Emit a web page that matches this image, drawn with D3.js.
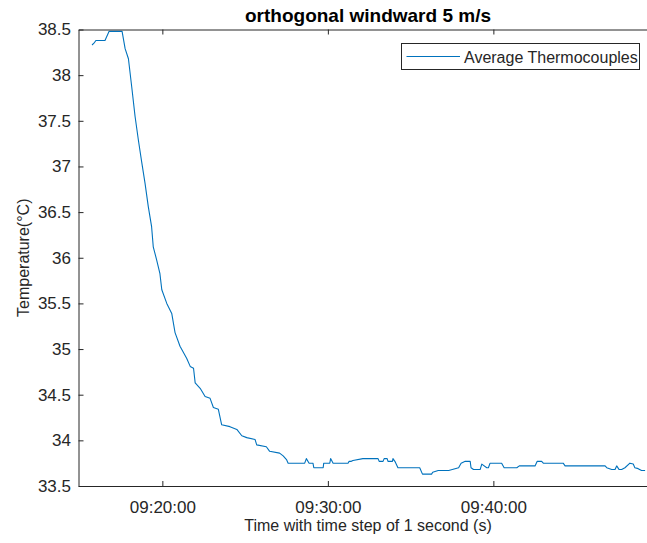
<!DOCTYPE html>
<html>
<head>
<meta charset="utf-8">
<script src="https://cdn.jsdelivr.net/npm/d3@7"></script>
<style>
  html, body { margin: 0; padding: 0; background: #fff; }
  svg { display: block; font-family: "Liberation Sans", Arial, Helvetica, sans-serif; }
</style>
</head>
<body>
<div id="chart"></div>
<script>
// ---- data ----
const titleText = "orthogonal windward 5 m/s";
const xLabel = "Time with time step of 1 second (s)";
const yLabel = "Temperature(°C)";
const seriesName = "Average Thermocouples";

const times = [
  "09:15:45","09:15:52","09:15:59","09:16:32","09:16:47","09:17:34","09:17:45","09:17:57",
  "09:18:09","09:18:21","09:18:33","09:18:45","09:18:57","09:19:09","09:19:21","09:19:27",
  "09:19:39","09:19:51","09:19:58","09:20:16","09:20:34","09:20:46","09:21:04","09:21:28",
  "09:21:41","09:21:53","09:21:59","09:22:17","09:22:35","09:22:53","09:23:05","09:23:23",
  "09:23:35","09:24:05","09:24:30","09:24:48","09:25:06","09:25:36","09:25:42","09:26:17",
  "09:26:29","09:27:05","09:27:18","09:27:30","09:27:36","09:28:36","09:28:42","09:28:52",
  "09:29:06","09:29:09","09:29:43","09:29:45","09:30:07","09:30:10","09:30:19","09:31:13",
  "09:31:17","09:31:25","09:31:31","09:32:07","09:33:02","09:33:06","09:33:20","09:33:24",
  "09:33:35","09:33:38","09:33:54","09:33:56","09:34:03","09:34:14","09:35:33","09:35:43",
  "09:36:16","09:36:20","09:36:40","09:37:18","09:37:54","09:38:03","09:38:18","09:38:36",
  "09:38:39","09:38:48","09:39:12","09:39:18","09:39:36","09:39:42","09:39:48","09:40:30",
  "09:40:39","09:41:25","09:41:34","09:42:31","09:42:39","09:42:55","09:43:01","09:44:13",
  "09:44:20","09:46:45","09:46:51","09:47:09","09:47:21","09:47:27","09:47:36","09:47:45",
  "09:47:57","09:48:15","09:48:27","09:48:33","09:48:45","09:48:57","09:49:10"
];
const temps = [
  38.33,38.35,38.38,38.38,38.48,38.48,38.29,38.18,
  37.87,37.55,37.29,37.05,36.82,36.56,36.34,36.12,
  35.98,35.83,35.65,35.50,35.39,35.18,35.03,34.90,
  34.81,34.79,34.63,34.57,34.48,34.46,34.36,34.34,
  34.17,34.15,34.12,34.05,34.03,34.01,33.95,33.93,
  33.88,33.86,33.83,33.79,33.75,33.75,33.80,33.75,
  33.75,33.70,33.70,33.75,33.75,33.80,33.75,33.75,
  33.77,33.77,33.78,33.80,33.80,33.77,33.77,33.80,
  33.80,33.77,33.77,33.80,33.77,33.70,33.70,33.63,
  33.63,33.65,33.67,33.67,33.70,33.75,33.77,33.77,
  33.70,33.68,33.68,33.74,33.70,33.70,33.75,33.75,
  33.70,33.70,33.72,33.72,33.77,33.77,33.75,33.75,
  33.72,33.72,33.70,33.68,33.68,33.72,33.68,33.68,
  33.70,33.75,33.74,33.70,33.69,33.67,33.67
];
const xDomain = ["09:14:56","09:49:55"];
const xTicks = ["09:20:00","09:30:00","09:40:00"];
const yDomain = [33.5, 38.5];
const yTicks = [33.5,34,34.5,35,35.5,36,36.5,37,37.5,38,38.5];

// ---- layout ----
const W = 647, H = 543;
const plot = { left: 78.5, right: 657.5, top: 29.5, bottom: 486 };
const axisColor = "#262626";
const lineColor = "#0072BD";

const parse = d3.timeParse("%H:%M:%S");
const fmt = d3.timeFormat("%H:%M:%S");

const x = d3.scaleTime().domain(xDomain.map(parse)).range([plot.left, plot.right]);
const y = d3.scaleLinear().domain(yDomain).range([plot.bottom, plot.top]);

const data = times.map((t, i) => ({ t: parse(t), v: temps[i] }));

const svg = d3.select("#chart").append("svg")
  .attr("width", W).attr("height", H);

svg.append("defs").append("clipPath").attr("id", "clip")
  .append("rect")
  .attr("x", plot.left).attr("y", plot.top)
  .attr("width", plot.right - plot.left).attr("height", plot.bottom - plot.top);

// data line
svg.append("path")
  .datum(data)
  .attr("clip-path", "url(#clip)")
  .attr("fill", "none")
  .attr("stroke", lineColor)
  .attr("stroke-width", 1.1)
  .attr("stroke-linejoin", "round")
  .attr("d", d3.line().x(d => x(d.t)).y(d => y(d.v)));

// axes
const tickLen = 5;
const xAxis = svg.append("g")
  .attr("transform", `translate(0,${plot.bottom})`)
  .call(d3.axisBottom(x).tickValues(xTicks.map(parse)).tickFormat(fmt)
    .tickSizeInner(-tickLen).tickSizeOuter(0).tickPadding(9));
xAxis.select(".domain").attr("stroke", axisColor);
xAxis.selectAll(".tick line").attr("stroke", axisColor);
xAxis.selectAll(".tick text").attr("fill", axisColor)
  .attr("font-size", 17).attr("font-family", "Liberation Sans, Arial, sans-serif")
  .attr("dy", null).attr("y", 26.5);

const xTop = svg.append("g")
  .attr("transform", `translate(0,${plot.top})`)
  .call(d3.axisTop(x).tickValues(xTicks.map(parse)).tickFormat("")
    .tickSizeInner(-tickLen).tickSizeOuter(0));
xTop.select(".domain").attr("stroke", axisColor);
xTop.selectAll(".tick line").attr("stroke", axisColor);

const yAxis = svg.append("g")
  .attr("transform", `translate(${plot.left},0)`)
  .call(d3.axisLeft(y).tickValues(yTicks).tickFormat(d3.format("~g"))
    .tickSizeInner(-tickLen).tickSizeOuter(0).tickPadding(8));
yAxis.select(".domain").attr("stroke", axisColor);
yAxis.selectAll(".tick line").attr("stroke", axisColor);
yAxis.selectAll(".tick text").attr("fill", axisColor)
  .attr("font-size", 17).attr("font-family", "Liberation Sans, Arial, sans-serif")
  .attr("x", -7.5);

const yRight = svg.append("g")
  .attr("transform", `translate(${plot.right},0)`)
  .call(d3.axisRight(y).tickValues(yTicks).tickFormat("")
    .tickSizeInner(-tickLen).tickSizeOuter(0));
yRight.select(".domain").attr("stroke", axisColor);
yRight.selectAll(".tick line").attr("stroke", axisColor);

// title
svg.append("text")
  .attr("x", (plot.left + plot.right) / 2).attr("y", 22)
  .attr("text-anchor", "middle")
  .attr("font-size", 19).attr("font-weight", "bold").attr("fill", "#000")
  .text(titleText);

// x label
svg.append("text")
  .attr("x", (plot.left + plot.right) / 2).attr("y", 531)
  .attr("text-anchor", "middle")
  .attr("font-size", 16).attr("fill", axisColor)
  .text(xLabel);

// y label
svg.append("text")
  .attr("transform", `translate(29,${(plot.top + plot.bottom) / 2}) rotate(-90)`)
  .attr("text-anchor", "middle")
  .attr("font-size", 16).attr("fill", axisColor)
  .text(yLabel);

// legend
const lg = svg.append("g");
lg.append("rect")
  .attr("x", 401.5).attr("y", 43.5).attr("width", 238).attr("height", 26)
  .attr("fill", "#fff").attr("stroke", axisColor).attr("stroke-width", 1);
lg.append("line")
  .attr("x1", 406.5).attr("x2", 460).attr("y1", 56.5).attr("y2", 56.5)
  .attr("stroke", lineColor).attr("stroke-width", 1.1);
lg.append("text")
  .attr("x", 464).attr("y", 62.5)
  .attr("font-size", 16).attr("fill", axisColor)
  .text(seriesName);
</script>
</body>
</html>
